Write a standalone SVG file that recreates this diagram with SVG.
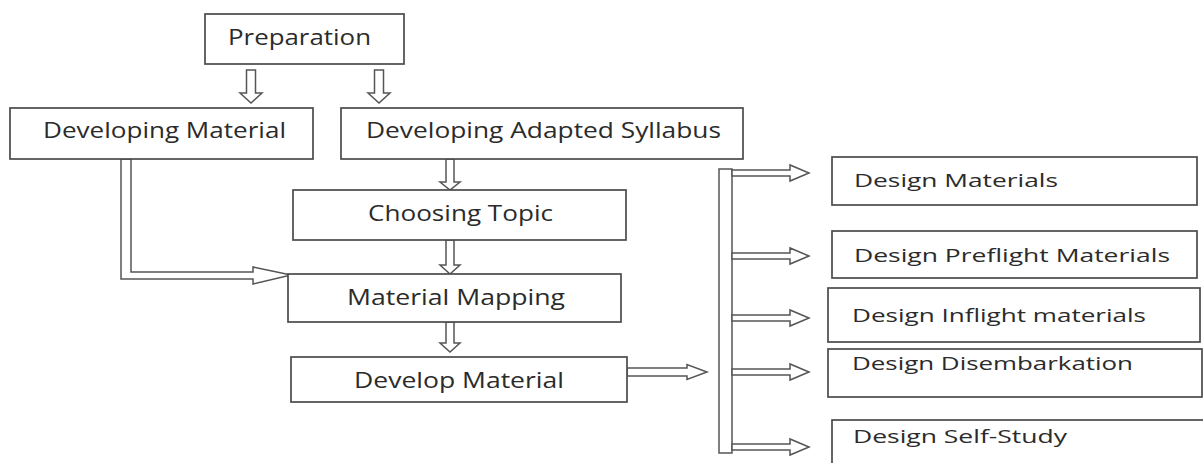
<svg xmlns="http://www.w3.org/2000/svg" width="1203" height="463" viewBox="0 0 1203 463">
<style>
.box{fill:#fff;stroke:#4a4a4a;stroke-width:1.7}
.arr{fill:#fff;stroke:#555;stroke-width:1.5;stroke-linejoin:miter}
.t{font-family:"Open Sans","Noto Sans",sans-serif;fill:#2b2b2b;font-size:22px}
.s{font-family:"Open Sans","Noto Sans",sans-serif;fill:#2b2b2b;font-size:18px}
</style>
<rect width="1203" height="463" fill="#fff"/>
<g id="connectors">
<polygon class="arr" points="246.5,70 255.5,70 255.5,93 262,93 251,103 240,93 246.5,93"/>
<polygon class="arr" points="374.5,70 383.5,70 383.5,93 390,93 379,103 368,93 374.5,93"/>
<polygon class="arr" points="446,159 454,159 454,182 460,182 450,190 440,182 446,182"/>
<polygon class="arr" points="446,240 454,240 454,265 460,265 450,274 440,265 446,265"/>
<polygon class="arr" points="446,322 454,322 454,343 460,343 450,352 440,343 446,343"/>
<polygon class="arr" points="121,159 131,159 131,272 253,272 253,267 291,275 253,284 253,279 121,279"/>
<polygon class="arr" points="627,368 687,368 687,364.5 707,372 687,379.5 687,376 627,376"/>
<rect class="arr" x="719" y="169" width="13" height="284"/>
<polygon class="arr" points="732,170 790,170 790,165 809,173 790,181 790,176 732,176"/>
<polygon class="arr" points="732,253 790,253 790,248 809,256 790,264 790,259 732,259"/>
<polygon class="arr" points="732,315 790,315 790,310 809,318 790,326 790,321 732,321"/>
<polygon class="arr" points="732,369 790,369 790,364 809,372 790,380 790,375 732,375"/>
<polygon class="arr" points="732,444 790,444 790,439 809,447 790,455 790,450 732,450"/>
</g>
<g id="preparation">
<rect class="box" x="205" y="14" width="199" height="50"/>
<text class="t" x="228" y="45" textLength="143" lengthAdjust="spacingAndGlyphs">Preparation</text>
</g>
<g id="developing-material">
<rect class="box" x="10" y="108" width="303" height="51"/>
<text class="t" x="43" y="138" textLength="243" lengthAdjust="spacingAndGlyphs">Developing Material</text>
</g>
<g id="developing-adapted-syllabus">
<rect class="box" x="341" y="108" width="402" height="51"/>
<text class="t" x="366" y="138" textLength="355" lengthAdjust="spacingAndGlyphs">Developing Adapted Syllabus</text>
</g>
<g id="choosing-topic">
<rect class="box" x="293" y="190" width="333" height="50"/>
<text class="t" x="368" y="221" textLength="185" lengthAdjust="spacingAndGlyphs">Choosing Topic</text>
</g>
<g id="material-mapping">
<rect class="box" x="288" y="274" width="333" height="48"/>
<text class="t" x="347" y="305" textLength="218" lengthAdjust="spacingAndGlyphs">Material Mapping</text>
</g>
<g id="develop-material">
<rect class="box" x="291" y="357" width="336" height="45"/>
<text class="t" x="354" y="388" textLength="210" lengthAdjust="spacingAndGlyphs">Develop Material</text>
</g>
<g id="design-materials">
<rect class="box" x="832" y="157" width="365" height="48"/>
<text class="s" x="854" y="187" textLength="204" lengthAdjust="spacingAndGlyphs">Design Materials</text>
</g>
<g id="design-preflight">
<rect class="box" x="832" y="231" width="365" height="47"/>
<text class="s" x="854" y="262" textLength="316" lengthAdjust="spacingAndGlyphs">Design Preflight Materials</text>
</g>
<g id="design-inflight">
<rect class="box" x="828" y="288" width="372" height="54"/>
<text class="s" x="852" y="322" textLength="294" lengthAdjust="spacingAndGlyphs">Design Inflight materials</text>
</g>
<g id="design-disembarkation">
<rect class="box" x="828" y="349" width="374" height="48"/>
<text class="s" x="852" y="370" textLength="281" lengthAdjust="spacingAndGlyphs">Design Disembarkation</text>
</g>
<g id="design-self-study">
<rect class="box" x="832" y="420" width="380" height="60"/>
<text class="s" x="853" y="443" textLength="214" lengthAdjust="spacingAndGlyphs">Design Self-Study</text>
</g>
</svg>
